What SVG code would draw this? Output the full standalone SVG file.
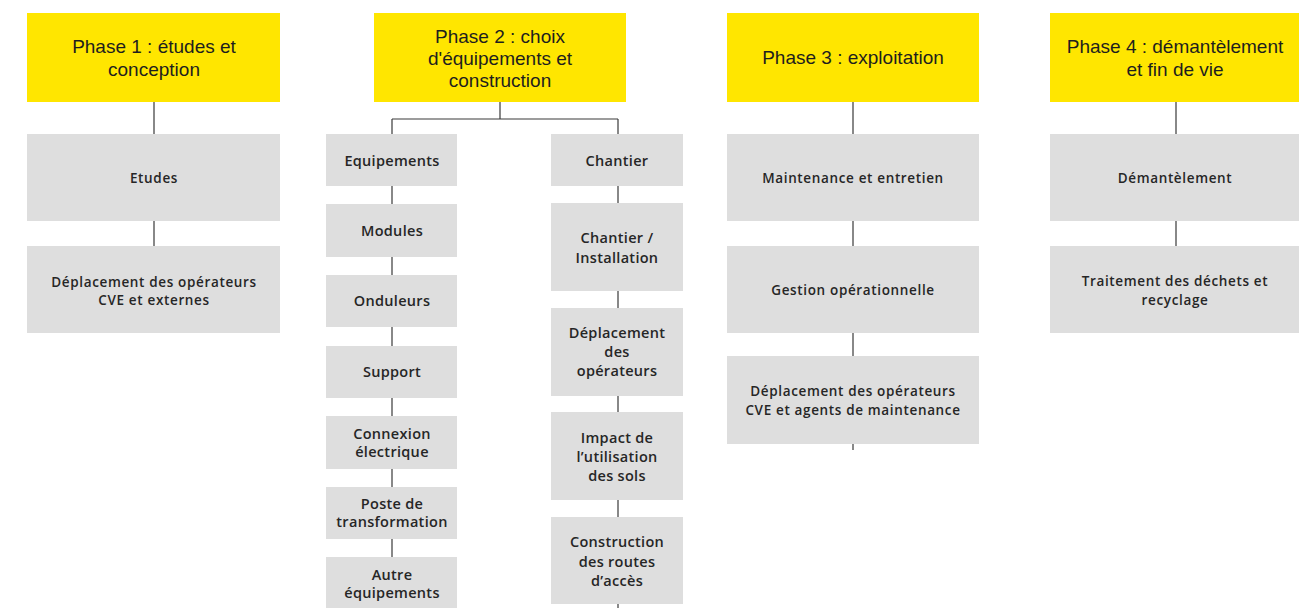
<svg xmlns="http://www.w3.org/2000/svg" width="1307" height="608" viewBox="0 0 1307 608">
<style>
.ph{fill:#FFE600;}
.bx{fill:#DEDEDE;}
.t{font-family:"Open Sans","Liberation Sans",sans-serif;text-anchor:middle;fill:#1e1e1e;}
.pt{font-family:"Liberation Sans",Arial,sans-serif;font-size:19px;font-weight:400;}
.gt{font-size:13.5px;font-weight:600;letter-spacing:0.65px;fill:#262626;}
.st{font-size:14.5px;font-weight:600;letter-spacing:0.3px;fill:#262626;}
.ln{stroke:#3a3a3a;stroke-width:1.2;fill:none;}
</style>
<rect width="1307" height="608" fill="#ffffff"/>
<g id="connectors">
<path class="ln" d="M154 102V134M154 221V246"/>
<path class="ln" d="M500 102V119M392 119H618M392 119V134M618 119V134"/>
<path class="ln" d="M392 186V204M392 257V275M392 327V346M392 398V416M392 469V487M392 539V557"/>
<path class="ln" d="M618 186V203M618 291V308M618 396V412M618 500V517M618 604V608"/>
<path class="ln" d="M853 102V134M853 221V246M853 333V356M853 444V450"/>
<path class="ln" d="M1176 102V134M1176 221V246"/>
</g>
<g id="phase1">
<rect class="ph" x="27" y="13" width="253" height="89"/>
<text class="t pt" x="154" y="53">Phase 1 : études et</text>
<text class="t pt" x="154" y="75.5">conception</text>
</g>
<g id="etudes">
<rect class="bx" x="27" y="134" width="253" height="87"/>
<text class="t gt" x="154" y="183">Etudes</text>
</g>
<g id="deplacement1">
<rect class="bx" x="27" y="246" width="253" height="87"/>
<text class="t gt" x="154" y="287">Déplacement des opérateurs</text>
<text class="t gt" x="154" y="305">CVE et externes</text>
</g>
<g id="phase2">
<rect class="ph" x="374" y="13" width="252" height="89"/>
<text class="t pt" x="500" y="42.5">Phase 2 : choix</text>
<text class="t pt" x="500" y="64.5">d'équipements et</text>
<text class="t pt" x="500" y="86.5">construction</text>
</g>
<g id="equipements">
<rect class="bx" x="326" y="134" width="131" height="52"/>
<text class="t st" x="392" y="166">Equipements</text>
</g>
<g id="modules">
<rect class="bx" x="326" y="204" width="131" height="53"/>
<text class="t st" x="392" y="236">Modules</text>
</g>
<g id="onduleurs">
<rect class="bx" x="326" y="275" width="131" height="52"/>
<text class="t st" x="392" y="306">Onduleurs</text>
</g>
<g id="support">
<rect class="bx" x="326" y="346" width="131" height="52"/>
<text class="t st" x="392" y="377">Support</text>
</g>
<g id="connexion">
<rect class="bx" x="326" y="416" width="131" height="53"/>
<text class="t st" x="392" y="439">Connexion</text>
<text class="t st" x="392" y="457">électrique</text>
</g>
<g id="poste">
<rect class="bx" x="326" y="487" width="131" height="52"/>
<text class="t st" x="392" y="509">Poste de</text>
<text class="t st" x="392" y="527">transformation</text>
</g>
<g id="autre">
<rect class="bx" x="326" y="557" width="131" height="53"/>
<text class="t st" x="392" y="580">Autre</text>
<text class="t st" x="392" y="598">équipements</text>
</g>
<g id="chantier">
<rect class="bx" x="551" y="134" width="132" height="52"/>
<text class="t st" x="617" y="166">Chantier</text>
</g>
<g id="installation">
<rect class="bx" x="551" y="203" width="132" height="88"/>
<text class="t st" x="617" y="243">Chantier /</text>
<text class="t st" x="617" y="263">Installation</text>
</g>
<g id="deplacement2">
<rect class="bx" x="551" y="308" width="132" height="88"/>
<text class="t st" x="617" y="338">Déplacement</text>
<text class="t st" x="617" y="357">des</text>
<text class="t st" x="617" y="376">opérateurs</text>
</g>
<g id="impact">
<rect class="bx" x="551" y="412" width="132" height="88"/>
<text class="t st" x="617" y="443">Impact de</text>
<text class="t st" x="617" y="462">l’utilisation</text>
<text class="t st" x="617" y="481">des sols</text>
</g>
<g id="routes">
<rect class="bx" x="551" y="517" width="132" height="87"/>
<text class="t st" x="617" y="547">Construction</text>
<text class="t st" x="617" y="567">des routes</text>
<text class="t st" x="617" y="586">d’accès</text>
</g>
<g id="phase3">
<rect class="ph" x="727" y="13" width="252" height="89"/>
<text class="t pt" x="853" y="64">Phase 3 : exploitation</text>
</g>
<g id="maintenance">
<rect class="bx" x="727" y="134" width="252" height="87"/>
<text class="t gt" x="853" y="183">Maintenance et entretien</text>
</g>
<g id="gestion">
<rect class="bx" x="727" y="246" width="252" height="87"/>
<text class="t gt" x="853" y="295">Gestion opérationnelle</text>
</g>
<g id="deplacement3">
<rect class="bx" x="727" y="356" width="252" height="88"/>
<text class="t gt" x="853" y="396">Déplacement des opérateurs</text>
<text class="t gt" x="853" y="415">CVE et agents de maintenance</text>
</g>
<g id="phase4">
<rect class="ph" x="1050" y="13" width="249" height="89"/>
<text class="t pt" x="1175" y="53">Phase 4 : démantèlement</text>
<text class="t pt" x="1175" y="75.5">et fin de vie</text>
</g>
<g id="demantelement">
<rect class="bx" x="1050" y="134" width="249" height="87"/>
<text class="t gt" x="1175" y="183">Démantèlement</text>
</g>
<g id="traitement">
<rect class="bx" x="1050" y="246" width="249" height="87"/>
<text class="t gt" x="1175" y="286">Traitement des déchets et</text>
<text class="t gt" x="1175" y="305">recyclage</text>
</g>
</svg>
